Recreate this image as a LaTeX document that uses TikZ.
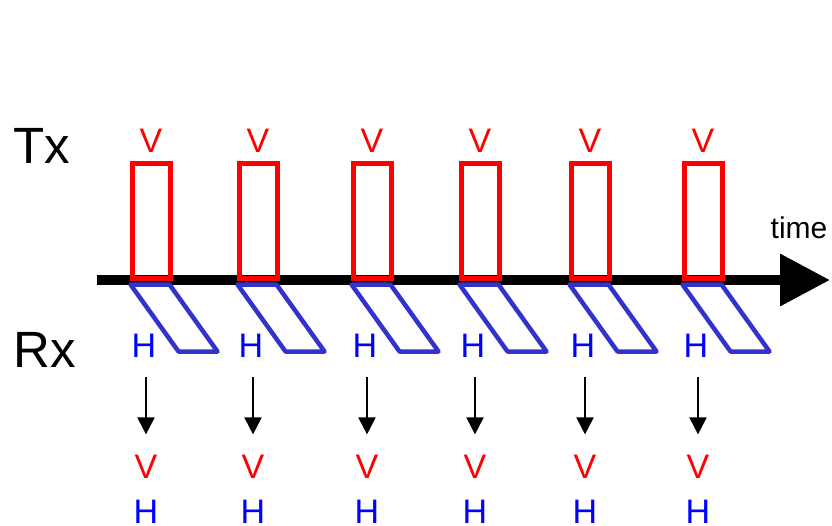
\documentclass[tikz,border=0pt]{standalone}
\usepackage{fontspec}
\setmainfont{Liberation Sans}
\usepackage{xcolor}
\usepackage{tikz}
\usetikzlibrary{calc}
\usetikzlibrary {arrows.meta}
\definecolor{C0}{HTML}{FF0000}
\definecolor{C1}{HTML}{0000FF}
\definecolor{C2}{HTML}{3333CC}

\begin{document}
\begin{tikzpicture}[x=1pt,y=-1pt]
\tikzstyle{big}=[inner sep=0pt,anchor=base,font=\fontsize{51}{51}\selectfont]
\tikzstyle{lbl}=[inner sep=0pt,anchor=base,font=\fontsize{34}{34}\selectfont]
\tikzstyle{vl}=[lbl,text=C0]
\tikzstyle{hl}=[lbl,text=C1]
\tikzstyle{pulse}=[draw=C0,line width=5pt,shape=rectangle,inner sep=0pt,minimum width=38pt,minimum height=115pt]
\tikzstyle{echo}=[draw=C2,line width=4.5pt,line join=round]
\tikzstyle{dn}=[line width=2pt,-{Triangle[length=17pt,width=17pt]},shorten <=20pt,shorten >=20pt]

\useasboundingbox (0,0) rectangle (832,525);

\node[big](tx) at (42,163){Tx};
\node[big](rx) at (45,367){Rx};
\node[inner sep=0pt,anchor=base,font=\fontsize{30}{30}\selectfont](tm) at (799,238){time};
%
\coordinate (t0) at (97,280);
\coordinate (t1) at (830,280);
\draw[line width=10pt,-{Triangle[length=50pt,width=50pt]}] (t0) -- (t1);
%
\node[pulse](p1) at (151,220.5){};
\node[pulse](p2) at (258,220.5){};
\node[pulse](p3) at (372,220.5){};
\node[pulse](p4) at (480,220.5){};
\node[pulse](p5) at (590,220.5){};
\node[pulse](p6) at (703,220.5){};
%
\draw[echo] ($(p1.south west)+(1,4)$) -- ++(39,0) -- ++(48,67) -- ++(-39,0) -- cycle;
\draw[echo] ($(p2.south west)+(1,4)$) -- ++(39,0) -- ++(48,67) -- ++(-39,0) -- cycle;
\draw[echo] ($(p3.south west)+(1,4)$) -- ++(39,0) -- ++(48,67) -- ++(-39,0) -- cycle;
\draw[echo] ($(p4.south west)+(1,4)$) -- ++(39,0) -- ++(48,67) -- ++(-39,0) -- cycle;
\draw[echo] ($(p5.south west)+(1,4)$) -- ++(39,0) -- ++(48,67) -- ++(-39,0) -- cycle;
\draw[echo] ($(p6.south west)+(1,4)$) -- ++(39,0) -- ++(48,67) -- ++(-39,0) -- cycle;
%
\node[vl](v1) at (151,152){V};
\node[vl](v2) at (258,152){V};
\node[vl](v3) at (372,152){V};
\node[vl](v4) at (480,152){V};
\node[vl](v5) at (590,152){V};
\node[vl](v6) at (703,152){V};
%
\node[hl](h1) at (144,357){H};
\node[hl](h2) at (251,357){H};
\node[hl](h3) at (365,357){H};
\node[hl](h4) at (473,357){H};
\node[hl](h5) at (583,357){H};
\node[hl](h6) at (696,357){H};
%
\node[vl](w1) at (146,478){V};
\node[vl](w2) at (253,478){V};
\node[vl](w3) at (367,478){V};
\node[vl](w4) at (475,478){V};
\node[vl](w5) at (585,478){V};
\node[vl](w6) at (698,478){V};
%
\node[hl](g1) at (146,523){H};
\node[hl](g2) at (253,523){H};
\node[hl](g3) at (367,523){H};
\node[hl](g4) at (475,523){H};
\node[hl](g5) at (585,523){H};
\node[hl](g6) at (698,523){H};
%
\draw[dn] (h1.south -| w1.north) -- (w1.north);
\draw[dn] (h2.south -| w2.north) -- (w2.north);
\draw[dn] (h3.south -| w3.north) -- (w3.north);
\draw[dn] (h4.south -| w4.north) -- (w4.north);
\draw[dn] (h5.south -| w5.north) -- (w5.north);
\draw[dn] (h6.south -| w6.north) -- (w6.north);
\end{tikzpicture}
\end{document}
